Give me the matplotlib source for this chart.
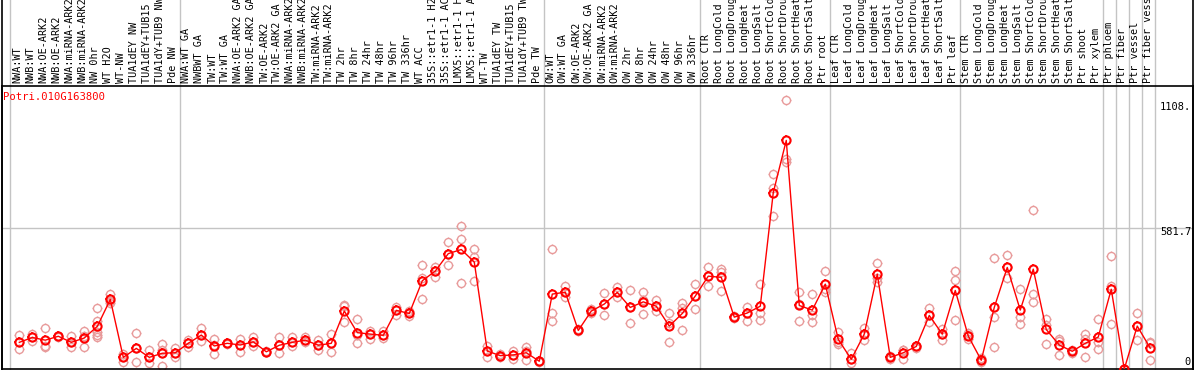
import matplotlib
matplotlib.use('Agg')
import matplotlib.pyplot as plt
from matplotlib.lines import Line2D
from matplotlib.path import Path
import numpy as np

gene = 'Potri.010G163800'

samples = [
    'NWA:WT', 'NWB:WT', 'NWA:OE-ARK2', 'NWB:OE-ARK2', 'NWA:miRNA-ARK2',
    'NWB:miRNA-ARK2', 'NW 0hr', 'WT H2O', 'WT-NW', 'TUA1dEY NW',
    'TUA1dEY+TUB15 NW', 'TUA1dY+TUB9 NW', 'Pde NW',
    'NWA:WT GA', 'NWBWT GA', 'TW:WT', 'TW:WT GA', 'NWA:OE-ARK2 GA',
    'NWB:OE-ARK2 GA', 'TW:OE-ARK2', 'TW:OE-ARK2 GA', 'NWA:miRNA-ARK2 GA',
    'NWB:miRNA-ARK2 GA', 'TW:miRNA-ARK2', 'TW:miRNA-ARK2 GA', 'TW 2hr',
    'TW 8hr', 'TW 24hr', 'TW 48hr', 'TW 96hr', 'TW 336hr', 'WT ACC',
    '35S::etr1-1 H2O', '35S::etr1-1 ACC', 'LMX5::etr1-1 H2O',
    'LMX5::etr1-1 ACC', 'WT-TW', 'TUA1dEY TW', 'TUA1dEY+TUB15 TW',
    'TUA1dY+TUB9 TW', 'Pde TW',
    'OW:WT', 'OW:WT GA', 'OW:OE-ARK2', 'OW:OE-ARK2 GA', 'OW:miRNA-ARK2',
    'OW:miRNA-ARK2 GA', 'OW 2hr', 'OW 8hr', 'OW 24hr', 'OW 48hr', 'OW 96hr',
    'OW 336hr',
    'Root CTR', 'Root LongCold', 'Root LongDrought', 'Root LongHeat',
    'Root LongSalt', 'Root ShortCold', 'Root ShortDrought', 'Root ShortHeat',
    'Root ShortSalt', 'Ptr root',
    'Leaf CTR', 'Leaf LongCold', 'Leaf LongDrought', 'Leaf LongHeat',
    'Leaf LongSalt', 'Leaf ShortCold', 'Leaf ShortDrought', 'Leaf ShortHeat',
    'Leaf ShortSalt', 'Ptr leaf',
    'Stem CTR', 'Stem LongCold', 'Stem LongDrought', 'Stem LongHeat',
    'Stem LongSalt', 'Stem ShortCold', 'Stem ShortDrought', 'Stem ShortHeat',
    'Stem ShortSalt', 'Ptr shoot', 'Ptr xylem',
    'Ptr phloem', 'Ptr fiber', 'Ptr vessel', 'Ptr fiber vessel',
]

means = [
    110, 130, 119, 135, 110, 128, 176, 287, 48, 85, 48, 65, 67,
    106, 140, 95, 106, 99, 112, 71, 98, 110, 119, 98, 106, 239, 150, 144,
    139, 242, 229, 364, 404, 476, 493, 441, 74, 55, 58, 67, 32,
    309, 317, 159, 239, 268, 316, 254, 277, 259, 177, 229, 301,
    383, 378, 214, 231, 259, 728, 943, 262, 243, 350,
    122, 40, 144, 391, 48, 67, 93, 221, 144, 324,
    136, 36, 254, 419, 243, 412, 163, 99, 73, 106, 132,
    329, 0, 177, 86,
]

replicates = [
    [139, 110, 84], [143, 130, 117], [169, 92, 96], [138, 135, 132],
    [136, 110, 89], [158, 135, 90], [251, 199, 154, 140, 130],
    [309, 282, 271], [62, 48, 28], [147, 85, 28], [78, 48, 26],
    [102, 80, 65, 14], [86, 67, 48],
    [119, 106, 92], [169, 140, 114], [122, 100, 62], [108, 106, 104],
    [122, 99, 71], [133, 112, 96], [73, 71, 69], [133, 98, 67],
    [130, 110, 95], [130, 119, 112], [119, 98, 78], [144, 106, 69],
    [259, 262, 194], [205, 140, 108], [158, 144, 125], [157, 139, 129],
    [257, 242, 222], [240, 229, 218], [427, 374, 288], [421, 404, 380],
    [522, 476, 431], [592, 538, 353], [497, 463, 363], [96, 74, 51],
    [62, 55, 50], [76, 58, 40], [89, 75, 37], [34, 32, 30],
    [497, 229, 198], [342, 317, 295], [163, 159, 155], [249, 239, 229],
    [312, 268, 221], [339, 316, 298], [325, 254, 188], [317, 284, 225],
    [284, 259, 239], [229, 190, 110], [273, 250, 161], [350, 301, 248],
    [420, 383, 342], [413, 400, 321], [218, 214, 210], [257, 231, 200],
    [350, 229, 202], [803, 748, 633], [1108, 868, 854], [318, 270, 198],
    [308, 222, 192], [404, 330, 318],
    [151, 105, 110], [65, 40, 23], [168, 144, 119], [439, 375, 360],
    [53, 48, 43], [80, 80, 40], [95, 93, 88], [251, 221, 195],
    [163, 144, 118], [404, 367, 202],
    [147, 139, 122], [44, 36, 30], [458, 214, 89], [470, 419, 374],
    [332, 213, 184], [654, 308, 275], [205, 180, 103], [122, 115, 58],
    [78, 73, 67], [144, 122, 51], [205, 110, 82],
    [465, 342, 185], [0, 0, 0], [233, 177, 119], [112, 109, 36],
]

# last sample of each block, a gray separator follows it
group_ends = [12, 40, 52, 62, 72, 83, 84, 85, 86, 87]
y_ticks = [0, 581.7, 1108]
y_tick_labels = ['0', '581.7', '1108.']

W, H = 1194, 370
fig = plt.figure(figsize=(W / 100, H / 100), dpi=100)
ax = fig.add_axes([1.5 / W, 1 / H, 1191 / W, 283 / H])
ax.set_xlim(-1.37, 90.25)
ax.set_ylim(0, 1167.5)
ax.set_xticks([])
ax.set_yticks([])
for s in ax.spines.values():
    s.set_linewidth(1.2)
    s.set_color('black')

mono = 'DejaVu Sans Mono'
gray = '#c4c4c4'

# four short ticks around the circle, like the original point glyph
r_in = 0.8
ticks = Path.make_compound_path(
    Path([(0, r_in), (0, 1)]), Path([(0, -r_in), (0, -1)]),
    Path([(r_in, 0), (1, 0)]), Path([(-r_in, 0), (-1, 0)]))

x = np.arange(len(samples))

ax.axhline(581.7, color=gray, lw=1, zorder=0)
for xv in [-0.72] + [e + 0.36 for e in group_ends]:
    ax.axvline(xv, ymin=0, ymax=1.31, color=gray, lw=1, clip_on=False, zorder=0)

rx = [i for i, r in enumerate(replicates) for _ in r]
ry = [v for r in replicates for v in r]
pink = '#e89a9a'
ax.plot(rx, ry, ls='none', marker='o', ms=5.8, mfc='none', mec=pink,
        mew=1.0, zorder=2, clip_on=False)
ax.plot(rx, ry, ls='none', marker=ticks, ms=7.4, mec=pink,
        mew=1.0, zorder=2, clip_on=False)
ax.plot(x, means, color='#ff0000', lw=1, zorder=3)
ax.plot(x, means, ls='none', marker='o', ms=5.9, mfc='none', mec='#ff0000',
        mew=1.5, zorder=4)
ax.plot(x, means, ls='none', marker=ticks, ms=7.6, mec='#ff0000',
        mew=1.2, zorder=4)

# sample names, vertical, above the plot
for i, lab in enumerate(samples):
    ax.annotate(lab, xy=(i - 0.15, 1.0), xycoords=('data', 'axes fraction'),
                xytext=(0, 2), textcoords='offset points', rotation=90,
                ha='center', va='bottom', fontsize=7.3, family=mono,
                annotation_clip=False)

offsets = [4.7, -3.2, -4.8]
for v, lab, off in zip(y_ticks, y_tick_labels, offsets):
    ax.annotate(lab, xy=(1.0, v), xycoords=('axes fraction', 'data'),
                xytext=(-1, off), textcoords='offset points',
                ha='right', va='center', fontsize=7.5, family=mono)

fig.text(3 / W, 1 - 97 / H, gene, color='#ff0000', fontsize=7.6,
         family=mono, ha='left', va='center')

# outer border keeps going up through the label strip
for px in (1.5, W - 1.5):
    fig.add_artist(Line2D([px / W, px / W], [0, 1], color='black', lw=1.2,
                          transform=fig.transFigure))

fig.savefig('out.png', dpi=100)
